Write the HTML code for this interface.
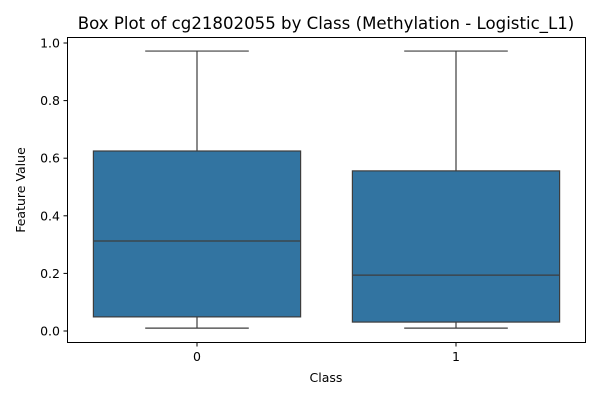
<!DOCTYPE html>
<html><head><meta charset="utf-8"><style>
body{margin:0;background:#fff;}
svg text{font-family:"DejaVu Sans","Liberation Sans",sans-serif;fill:#000;}
</style></head><body>
<svg id="chart" width="600" height="400" viewBox="0 0 600 400">
<rect x="0" y="0" width="600" height="400" fill="#fff"/>
<text x="326" y="29" font-size="16.6" text-anchor="middle">Box Plot of cg21802055 by Class (Methylation - Logistic_L1)</text>
<g id="plot"></g>
<rect x="67.5" y="37.5" width="518" height="305" fill="none" stroke="#000" stroke-width="1"/>
<text x="326" y="382" font-size="12.5" text-anchor="middle">Class</text>
<text transform="translate(25,190) rotate(-90)" font-size="12.5" text-anchor="middle">Feature Value</text>
</svg>
<script>
const categories = ["0","1"];
const whiskerLow = [0.01, 0.01];
const q1 = [0.049, 0.031];
const median = [0.3125, 0.194];
const q3 = [0.625, 0.556];
const whiskerHigh = [0.972, 0.972];
const yTicks = [0.0,0.2,0.4,0.6,0.8,1.0];
const yTickLabels = ["0.0","0.2","0.4","0.6","0.8","1.0"];

const NS="http://www.w3.org/2000/svg";
const g=document.getElementById('plot');
const plotL=67.5, plotR=585.5;
function y(v){return 331-v*288;}
function xc(i){return plotL+(plotR-plotL)*(i+0.5)/categories.length;}
const bw=(plotR-plotL)/categories.length*0.8;
function mk(tag,attrs){const e=document.createElementNS(NS,tag);for(const k in attrs)e.setAttribute(k,attrs[k]);g.appendChild(e);return e;}
yTicks.forEach((t,i)=>{
  const l=mk('line',{x1:63.5,x2:67.5,y1:y(t),y2:y(t),stroke:'#000'});
  
  
  const tx=mk('text',{x:60,y:y(t)+4.5,'font-size':12.5,'text-anchor':'end'});
  tx.textContent=yTickLabels[i];
  
  
});
categories.forEach((c,i)=>{
  const cx=xc(i);
  const l=mk('line',{x1:cx,x2:cx,y1:342.5,y2:346.5,stroke:'#000'});
  
  
  const tx=mk('text',{x:cx,y:361,'font-size':12.5,'text-anchor':'middle'});
  tx.textContent=c;
  
  
  const st='#3d3d3d';
  const w1=mk('line',{x1:cx,x2:cx,y1:y(whiskerHigh[i]),y2:y(q3[i]),stroke:st,'stroke-width':1.2});
  
  
  const w2=mk('line',{x1:cx,x2:cx,y1:y(q1[i]),y2:y(whiskerLow[i]),stroke:st,'stroke-width':1.2});
  
  
  const c1=mk('line',{x1:cx-bw/4,x2:cx+bw/4,y1:y(whiskerHigh[i]),y2:y(whiskerHigh[i]),stroke:st,'stroke-width':1.2});
  
  
  const c2=mk('line',{x1:cx-bw/4,x2:cx+bw/4,y1:y(whiskerLow[i]),y2:y(whiskerLow[i]),stroke:st,'stroke-width':1.2});
  
  
  const b=mk('rect',{x:cx-bw/2,y:y(q3[i]),width:bw,height:y(q1[i])-y(q3[i]),fill:'#3274a1',stroke:st,'stroke-width':1.2});
  
  
  const m=mk('line',{x1:cx-bw/2,x2:cx+bw/2,y1:y(median[i]),y2:y(median[i]),stroke:st,'stroke-width':1.2});
  
  
});
</script>
</body></html>
